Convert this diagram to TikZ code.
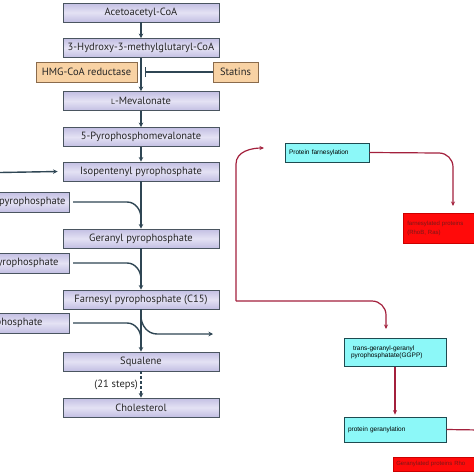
\documentclass[tikz,border=0pt]{standalone}
\usepackage{fontspec}
\setmainfont{PT Sans}
\newfontfamily\arialf{Liberation Sans}
\usetikzlibrary{arrows.meta}
\definecolor{boxedge}{HTML}{4A5560}
\definecolor{lavdark}{HTML}{C3BFE3}
\definecolor{lavlight}{HTML}{E4E2F4}
\definecolor{arrowc}{HTML}{2F4654}
\definecolor{orangef}{HTML}{F8D2A4}
\definecolor{orangee}{HTML}{8A6B4C}
\definecolor{redc}{HTML}{A3203C}
\definecolor{cyanf}{HTML}{8CF8F8}
\definecolor{cyane}{HTML}{1E4A50}
\definecolor{redbox}{HTML}{FF0A0A}
\definecolor{redtext}{HTML}{7A1818}
\tikzset{
  mainbox/.style={draw=boxedge, line width=0.9pt, top color=lavdark, bottom color=lavdark, middle color=lavlight,
    minimum width=156pt, minimum height=19pt, inner sep=0pt, font=\fontsize{10.5}{11}\selectfont, text=black!85},
  leftbox/.style={draw=boxedge, line width=0.9pt, top color=lavdark, bottom color=lavdark, middle color=lavlight,
    minimum height=20pt, inner ysep=0pt, font=\fontsize{10.5}{11}\selectfont, text=black!85, anchor=east},
  orbox/.style={draw=orangee, line width=0.8pt, fill=orangef, minimum height=20pt, inner sep=0pt,
    font=\fontsize{10.5}{11}\selectfont, text=black!85},
  cybox/.style={draw=cyane, line width=0.7pt, fill=cyanf, inner sep=0pt, font=\arialf\fontsize{6.5}{7.6}\selectfont},
  rdbox/.style={draw=red!80!black, line width=0.5pt, fill=redbox, inner sep=0pt, font=\arialf\fontsize{6}{9}\selectfont, text=redtext},
  flow/.style={draw=arrowc, line width=1.4pt, -{Stealth[length=4.5pt,width=4.5pt]}},
  flowline/.style={draw=arrowc, line width=1.4pt},
  redflow/.style={draw=redc, line width=1.2pt, -{Stealth[length=4.5pt,width=4pt]}},
  redline/.style={draw=redc, line width=1.2pt},
}
\begin{document}
\begin{tikzpicture}[x=1pt,y=-1pt]
\useasboundingbox (0,0) rectangle (474,474);
\clip (0,0) rectangle (474,474);
\fill[white] (0,0) rectangle (474,474);

% main column
\node[mainbox] (aca) at (141,12.5) {Acetoacetyl-CoA};
\node[mainbox] (hmg) at (141,48) {3-Hydroxy-3-methylglutaryl-CoA};
\node[mainbox] (mev) at (141,101) {{\fontsize{7.6}{8}\selectfont L}-Mevalonate};
\node[mainbox] (ppm) at (141,137) {5-Pyrophosphomevalonate};
\node[mainbox] (ipp) at (141,171.5) {Isopentenyl pyrophosphate};
\node[mainbox] (gpp) at (141,238.5) {Geranyl pyrophosphate};
\node[mainbox] (fpp) at (141,299.5) {Farnesyl pyrophosphate (C15)};
\node[mainbox] (sq) at (141,361.5) {Squalene};
\node[mainbox] (chol) at (141,407.5) {Cholesterol};

% side boxes
\node[orbox, minimum width=101pt] (red) at (86.5,72) {HMG-CoA reductase};
\node[orbox, minimum width=45pt] (stat) at (235.5,72) {Statins};

% left input boxes
\node[leftbox, inner xsep=4pt] (l1) at (70,202) {Dimethylallyl pyrophosphate};
\node[leftbox, inner xsep=11pt] (l2) at (70,263) {Isopentenyl pyrophosphate};
\node[leftbox, inner xsep=27pt] (l3) at (70,323) {Farnesyl pyrophosphate};

% main arrows
\draw[flow] (aca) -- (hmg);
\draw[flow] (hmg) -- (mev);
\draw[flow] (mev) -- (ppm);
\draw[flow] (ppm) -- (ipp);
\draw[flow] (ipp) -- (gpp);
\draw[flow] (gpp) -- (fpp);
\draw[flow] (fpp) -- (sq);
\draw[draw=arrowc, line width=1.6pt, dash pattern=on 3pt off 2pt, -{Stealth[length=4.5pt,width=4.5pt]}] (sq) -- node[left, font=\fontsize{10.5}{11}\selectfont, text=black!85, xshift=1pt] {(21 steps)} (chol);

% inhibition
\coordinate (inhb) at (145,72);
\draw[draw=arrowc, line width=1.3pt, -{Bar[width=10pt,line width=1.3pt]}] (stat.west) -- (inhb);

% incoming arrow to IPP
\coordinate (inl) at (0,172.5);
\draw[flow] (inl) -- ([xshift=-5pt]ipp.west);

% merge curves
\coordinate (m1) at (141,218);
\coordinate (m2) at (141,279);
\coordinate (m3) at (141,339);
\draw[flowline] ([xshift=3pt]l1.east) -- ++(54,0) to[out=0,in=90] (m1);
\draw[flowline] ([xshift=3pt]l2.east) -- ++(54,0) to[out=0,in=90] (m2);
\draw[flowline] ([xshift=3pt]l3.east) -- ++(54,0) to[out=0,in=90] (m3);

% branch to right
\coordinate (bs) at (141,316);
\coordinate (be) at (213,334);
\draw[flow] (bs) to[out=-90,in=180] (157,334) -- (be);

% right side
\node[cybox, minimum width=84pt, minimum height=19pt, text width=76pt, align=left] (pf) at (327,152.5) {Protein farnesylation};
\node[cybox, minimum width=102pt, minimum height=28pt, text width=88pt, align=left] (ggpp) at (395,352.5) {\hspace*{2pt}trans-geranyl-geranyl\\pyrophosphatate(GGPP)};
\node[cybox, minimum width=102pt, minimum height=25pt, text width=94pt, align=left] (pg) at (395,429.5) {protein geranylation};
\node[rdbox, minimum width=80pt, minimum height=30pt, text width=72pt, align=left, anchor=north west] (fp) at (403,213) {farnesylated proteins\\(RhoB, Ras)};
\node[rdbox, minimum width=90pt, minimum height=14pt, text width=84pt, align=left, anchor=north west] (gp) at (393,457) {Geranylated proteins Rho};

% red connectors
\coordinate (rc) at (236,301);
\coordinate (t1) at (264,148);
\coordinate (t2) at (386,329);
\coordinate (t3) at (453,206);
\coordinate (t4) at (480,430);
\draw[redflow] (rc) -- (236,164) to[out=90,in=180] (t1);
\draw[redflow] (rc) -- (372,301) to[out=0,in=90] (386,315) -- (t2);
\draw[redflow] (pf.east) -- (439,153) to[out=0,in=90] (453,167) -- (t3);
\draw[redflow, shorten >=2pt] (ggpp) -- (pg);
\draw[redline] (pg.east) -- (t4);
\end{tikzpicture}
\end{document}
